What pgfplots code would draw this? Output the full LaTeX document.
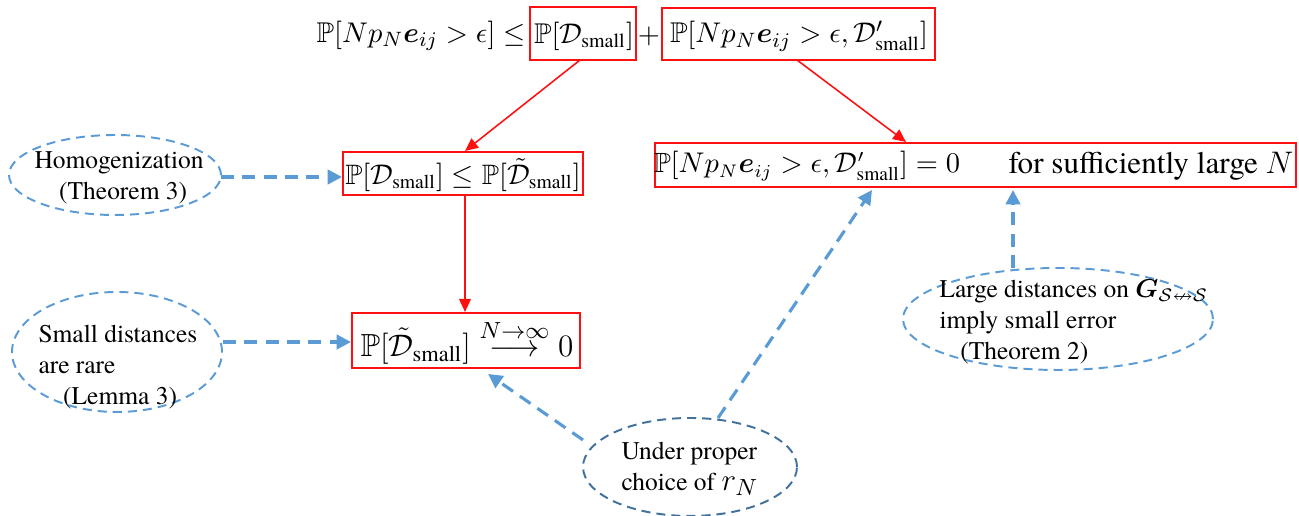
\documentclass[border=0pt]{standalone}
\usepackage{amsmath,amssymb,bm}
\usepackage{fontspec}
\setmainfont{TeX Gyre Termes}
\usepackage{pgfplots}
\pgfplotsset{compat=1.18}
\usetikzlibrary{arrows.meta,shapes.geometric}

\definecolor{boxred}{HTML}{FF1010}
\definecolor{lblue}{HTML}{5B9BD5}
\definecolor{dblue}{HTML}{41719C}

% 1 px of the reference = 500/1299 pt
\newcommand{\px}{0.38491pt}

\begin{document}
\begin{tikzpicture}
  \begin{axis}[
    scale only axis,
    width=500pt, height=198.6pt,
    xmin=0, xmax=1299, ymin=0, ymax=516,
    y dir=reverse,
    axis lines=none,
    clip=false]

    % red boxes
    \draw[boxred, line width=0.6pt] (axis cs:530,7) rectangle (axis cs:636,60);
    \draw[boxred, line width=0.6pt] (axis cs:662,8) rectangle (axis cs:935,60);
    \draw[boxred, line width=0.6pt] (axis cs:343,152) rectangle (axis cs:583,195);
    \draw[boxred, line width=0.6pt] (axis cs:655,143) rectangle (axis cs:1296,187);
    \draw[boxred, line width=0.6pt] (axis cs:352,313) rectangle (axis cs:580,368);

    % formulas
    \begin{scope}[every node/.style={font=\fontsize{11}{13}\selectfont, inner sep=0pt}]
      \node[anchor=east] at (axis cs:526,36)
        {$\mathbb{P}[Np_N\bm{e}_{ij} > \epsilon] \le$};
      \node at (axis cs:584,36) {$\mathbb{P}[\mathcal{D}_{\text{small}}]$};
      \node at (axis cs:649,36) {$+$};
      \node at (axis cs:799,36)
        {$\mathbb{P}[Np_N\bm{e}_{ij} > \epsilon, \mathcal{D}'_{\text{small}}]$};
      \node[font=\fontsize{10.8}{13}\selectfont] at (axis cs:463,175)
        {$\mathbb{P}[\mathcal{D}_{\text{small}}] \le \mathbb{P}[\tilde{\mathcal{D}}_{\text{small}}]$};
      \node[font=\fontsize{10.7}{13}\selectfont] at (axis cs:807,166)
        {$\mathbb{P}[Np_N\bm{e}_{ij} > \epsilon, \mathcal{D}'_{\text{small}}] = 0$};
      \node[font=\fontsize{12}{14}\selectfont] at (axis cs:1151,166) {for sufficiently large $N$};
      \node[font=\fontsize{12.3}{14}\selectfont] at (axis cs:467,342)
        {$\mathbb{P}[\tilde{\mathcal{D}}_{\text{small}}] \stackrel{N\to\infty}{\longrightarrow} 0$};
    \end{scope}

    % red arrows
    \begin{scope}[boxred, line width=0.6pt, -{Triangle[length=5pt,width=4.5pt]}]
      \draw (axis cs:580,60) -- (axis cs:465,151);
      \draw (axis cs:797,60) -- (axis cs:906,142);
      \draw (axis cs:465,195) -- (axis cs:465,312);
    \end{scope}

    % ellipses
    \begin{scope}[every node/.style={ellipse, draw, dash pattern=on 3.5pt off 2.3pt,
        line width=0.75pt, inner sep=0pt}]
      \node[lblue, minimum width={212*\px}, minimum height={80*\px}] at (axis cs:115,175) {};
      \node[lblue, minimum width={210*\px}, minimum height={120*\px}] at (axis cs:117,352) {};
      \node[dblue, minimum width={214*\px}, minimum height={98*\px}] at (axis cs:690,467) {};
      \node[lblue, minimum width={310*\px}, minimum height={102*\px}] at (axis cs:1058,319) {};
    \end{scope}

    % ellipse texts
    \begin{scope}[every node/.style={font=\fontsize{9.8}{11.8}\selectfont, inner sep=0pt}]
      \node[align=left, anchor=west] at (axis cs:34,178)
        {Homogenization\\\hspace*{9.5pt}(Theorem 3)};
      \node[align=left, anchor=west] at (axis cs:38,367)
        {Small distances\\are rare\\\hspace*{9.5pt}(Lemma 3)};
      \node[align=left, anchor=west] at (axis cs:621,469)
        {Under proper\\choice of {\fontsize{12.5}{14}\selectfont$r_N$}};
      \node[align=left, anchor=west] at (axis cs:939,322)
        {Large distances on $\bm{G}_{\mathcal{S}\nleftrightarrow\mathcal{S}}$\\
         imply small error\\\hspace*{8pt}(Theorem 2)};
    \end{scope}

    % blue dashed arrows
    \begin{scope}[lblue, line width=1.2pt, dash pattern=on 5pt off 3.2pt,
        -{Triangle[length=5.5pt,width=5.5pt]}]
      \draw (axis cs:221,177) -- (axis cs:342,177);
      \draw (axis cs:223,342) -- (axis cs:351,342);
      \draw (axis cs:583,440) -- (axis cs:488,374);
      \draw (axis cs:718,418) -- (axis cs:872,190);
      \draw (axis cs:1013,268) -- (axis cs:1013,190);
    \end{scope}
  \end{axis}
  \pgfresetboundingbox
  \path (current axis.south west) rectangle (current axis.north east);
\end{tikzpicture}
\end{document}
